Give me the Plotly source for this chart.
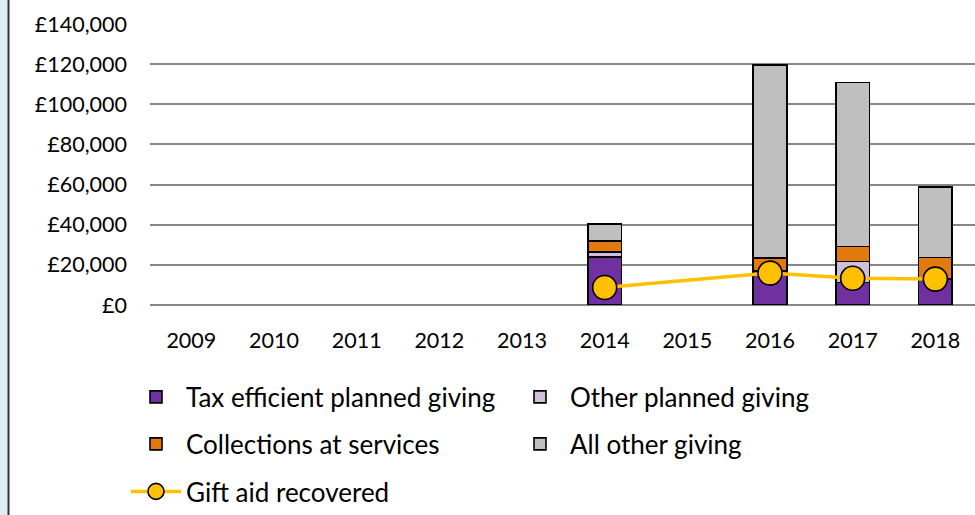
import plotly.graph_objects as go

years = ["2009", "2010", "2011", "2012", "2013", "2014", "2015", "2016", "2017", "2018"]
tax_efficient = [None, None, None, None, None, 24000, None, 17000, 11300, 13000]
other_planned = [None, None, None, None, None, 2500, None, None, 10300, None]
collections = [None, None, None, None, None, 5500, None, 6400, 7500, 10600]
all_other = [None, None, None, None, None, 8300, None, 96100, 81700, 35200]
gift_aid = [None, None, None, None, None, 8700, None, 15900, 13300, 12900]

y_tick_values = [0, 20000, 40000, 60000, 80000, 100000, 120000, 140000]
y_tick_labels = ["£0", "£20,000", "£40,000", "£60,000", "£80,000", "£100,000", "£120,000", "£140,000"]

FONT = "Lato"
L, T, B, W, H = 150, 24, 209, 975, 515
PW = W - L
PH = H - T - B

def px_x(p):
    return (p - L) / PW

def px_y(p):
    return (H - B - p) / PH

fig = go.Figure()
bar_line = dict(color="black", width=1.6)
fig.add_trace(go.Bar(x=years, y=tax_efficient, name="Tax efficient planned giving",
                     marker=dict(color="#7030A0", line=bar_line), legend="legend"))
fig.add_trace(go.Bar(x=years, y=other_planned, name="Other planned giving",
                     marker=dict(color="#CCC0DA", line=bar_line), legend="legend"))
fig.add_trace(go.Bar(x=years, y=collections, name="Collections at services",
                     marker=dict(color="#E27A0E", line=bar_line), legend="legend2"))
fig.add_trace(go.Bar(x=years, y=all_other, name="All other giving",
                     marker=dict(color="#BFBFBF", line=bar_line), legend="legend2"))
fig.add_trace(go.Scatter(x=years, y=gift_aid, name="Gift aid recovered", mode="lines+markers",
                         connectgaps=True, line=dict(color="#FFC000", width=3.5),
                         marker=dict(size=24, color="#FFC000", line=dict(color="black", width=1.6)),
                         legend="legend3"))

legend_common = dict(orientation="h", xanchor="left", yanchor="middle", traceorder="normal",
                     font=dict(family=FONT, size=26, color="black"),
                     itemwidth=50, entrywidth=319, bgcolor="rgba(0,0,0,0)")

TICK_SIZE = 21.5
fig.update_layout(
    width=W, height=H,
    margin=dict(l=L, r=0, t=T, b=B),
    paper_bgcolor="white", plot_bgcolor="white",
    barmode="stack", bargap=0.59,
    font=dict(family=FONT, size=TICK_SIZE, color="black"),
    xaxis=dict(type="category", range=[-0.5, 9.48], showgrid=False, showline=False,
               ticks="", tickfont=dict(family=FONT, size=TICK_SIZE, color="black"),
               ticklabelstandoff=20, fixedrange=True),
    yaxis=dict(range=[0, 140000], tickvals=y_tick_values, ticktext=y_tick_labels,
               showgrid=True, gridcolor="#878787", gridwidth=2,
               zeroline=True, zerolinecolor="#878787", zerolinewidth=2,
               showline=False, ticks="", ticklabelstandoff=22,
               tickfont=dict(family=FONT, size=TICK_SIZE, color="black")),
    legend=dict(legend_common, x=px_x(126), y=px_y(397)),
    legend2=dict(legend_common, x=px_x(126), y=px_y(444)),
    legend3=dict(legend_common, x=px_x(126), y=px_y(493)),
    showlegend=True,
    shapes=[
        dict(type="rect", xref="paper", yref="paper", x0=px_x(-5), x1=px_x(7.5),
             y0=px_y(H + 10), y1=px_y(-10), fillcolor="#DCEEF5", line=dict(width=0), layer="below"),
        dict(type="line", xref="paper", yref="paper", x0=px_x(8.5), x1=px_x(8.5),
             y0=px_y(H + 10), y1=px_y(-10), line=dict(color="#333333", width=2)),
    ],
)

fig.write_html("out.html", config={"displayModeBar": False},
               post_script="document.body.style.margin='0px';document.body.style.overflow='hidden';")
